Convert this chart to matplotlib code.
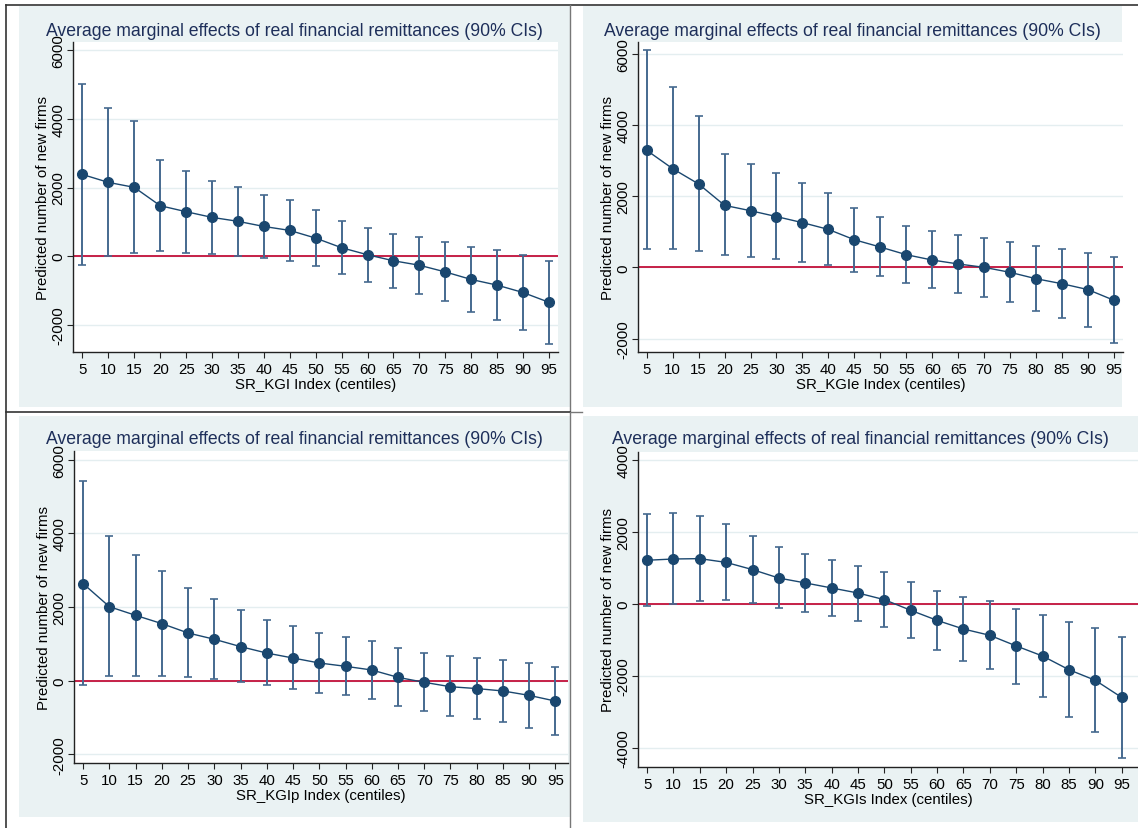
import matplotlib
matplotlib.use("Agg")
import matplotlib.pyplot as plt
import numpy as np
from matplotlib.patches import Rectangle
from matplotlib.lines import Line2D

plt.rcParams['font.family'] = ['Liberation Sans', 'DejaVu Sans']

centiles = [5, 10, 15, 20, 25, 30, 35, 40, 45, 50, 55, 60, 65, 70, 75, 80, 85, 90, 95]

# SR_KGI
kgi_est = [2380, 2150, 2005, 1470, 1295, 1130, 1015, 865, 750, 525, 245, 40, -135, -265, -460, -680, -845, -1060, -1345]
kgi_hi = [5025, 4315, 3935, 2805, 2485, 2200, 2015, 1790, 1625, 1345, 1030, 830, 655, 555, 420, 275, 165, 40, -135]
kgi_lo = [-255, 0, 80, 145, 105, 60, 10, -60, -135, -280, -535, -740, -935, -1090, -1315, -1615, -1850, -2145, -2560]

# SR_KGIe
kgie_est = [3285, 2770, 2340, 1740, 1590, 1425, 1255, 1065, 775, 570, 355, 205, 95, 0, -140, -320, -460, -625, -925]
kgie_hi = [6095, 5055, 4240, 3175, 2900, 2640, 2370, 2085, 1655, 1405, 1150, 1010, 900, 815, 710, 590, 515, 410, 290]
kgie_lo = [505, 505, 460, 335, 280, 225, 150, 65, -120, -255, -440, -580, -710, -825, -985, -1215, -1415, -1675, -2135]

# SR_KGIp
kgip_est = [2635, 2010, 1775, 1550, 1295, 1125, 925, 750, 615, 480, 390, 290, 90, -45, -165, -215, -280, -400, -555]
kgip_hi = [5420, 3930, 3425, 2980, 2510, 2210, 1910, 1660, 1475, 1305, 1180, 1080, 880, 750, 660, 615, 570, 470, 380]
kgip_lo = [-120, 120, 135, 135, 90, 35, -45, -125, -225, -325, -400, -490, -690, -835, -970, -1040, -1115, -1285, -1485]

# SR_KGIs
kgis_est = [1215, 1250, 1260, 1155, 955, 720, 585, 445, 305, 120, -175, -455, -695, -870, -1165, -1445, -1825, -2120, -2595]
kgis_hi = [2500, 2520, 2445, 2215, 1890, 1575, 1390, 1230, 1065, 880, 600, 360, 195, 75, -130, -295, -510, -665, -915]
kgis_lo = [-65, 10, 85, 100, 30, -120, -220, -335, -465, -640, -955, -1285, -1575, -1805, -2215, -2585, -3130, -3565, -4280]

W, H = 1138, 829
fig = plt.figure(figsize=(W / 100, H / 100), dpi=100)
fig.patch.set_facecolor('white')

bg = '#eaf2f3'
navy = '#1a476f'
ci_col = '#45698f'
title_col = '#1e2f5a'


def px_rect(x0, y0, x1, y1):
    return [x0 / W, 1 - y1 / H, (x1 - x0) / W, (y1 - y0) / H]


def add_bg(x0, y0, x1, y1):
    fig.patches.append(Rectangle((x0 / W, 1 - y1 / H), (x1 - x0) / W, (y1 - y0) / H,
                                 transform=fig.transFigure, facecolor=bg,
                                 edgecolor='none', zorder=-5))


def add_line(xs, ys, color='#333333', lw=1.2):
    fig.lines.append(Line2D([x / W for x in xs], [1 - y / H for y in ys],
                            transform=fig.transFigure, color=color, lw=lw, zorder=5))


# panel backgrounds
add_bg(19, 7, 570, 408)
add_bg(583, 7, 1122, 408)
add_bg(19, 417, 570, 818)
add_bg(583, 417, 1138, 823)

# table frame lines
add_line([6, 1138], [6, 6])
add_line([6, 6], [6, 829])
add_line([570, 570], [6, 829], color='#777777', lw=1.0)
add_line([6, 570], [413, 413])
add_line([570, 582], [413, 413], color='#777777', lw=1.0)

panels = [
    (kgi_est, kgi_lo, kgi_hi, 'SR_KGI Index (centiles)', (73, 43, 558, 353),
     (3.17, 96.76), (-2795, 6243), [-2000, 0, 2000, 4000, 6000], (19, 570), 31),
    (kgie_est, kgie_lo, kgie_hi, 'SR_KGIe Index (centiles)', (638, 43, 1123, 353),
     (3.32, 96.75), (-2377, 6327), [-2000, 0, 2000, 4000, 6000], (583, 1122), 31),
    (kgip_est, kgip_lo, kgip_hi, 'SR_KGIp Index (centiles)', (74, 452, 568, 764),
     (3.25, 97.4), (-2238, 6242), [-2000, 0, 2000, 4000, 6000], (19, 570), 440),
    (kgis_est, kgis_lo, kgis_hi, 'SR_KGIs Index (centiles)', (638, 453, 1138, 768),
     (3.28, 98.1), (-4528, 4222), [-4000, -2000, 0, 2000, 4000], (583, 1138), 440),
]

for est, lo, hi, xlab, box, xl, yl, yt, tspan, ty in panels:
    ax = fig.add_axes(px_rect(*box))
    ax.set_zorder(2)
    ax.set_facecolor('white')
    ax.set_xlim(*xl)
    ax.set_ylim(*yl)
    for s in ['top', 'right']:
        ax.spines[s].set_visible(False)
    for s in ['left', 'bottom']:
        ax.spines[s].set_color('#222222')
        ax.spines[s].set_linewidth(1.0)
    ax.set_yticks(yt)
    ax.set_yticklabels([str(v) for v in yt], rotation=90, va='center')
    ax.set_xticks(centiles)
    ax.tick_params(axis='both', direction='out', length=4, width=0.8,
                   colors='#222222', labelsize=10.8, labelcolor='black')
    ax.tick_params(axis='x', pad=3)
    ax.tick_params(axis='y', pad=1.5)
    ax.grid(axis='y', color='#e4eef0', lw=1.0)
    ax.set_axisbelow(True)

    ax.axhline(0, color='#c2103a', lw=1.3, zorder=2)
    est_a = np.array(est)
    yerr = [est_a - np.array(lo), np.array(hi) - est_a]
    ax.errorbar(centiles, est, yerr=yerr, fmt='none', ecolor=ci_col,
                elinewidth=1.4, capsize=2.6, capthick=1.2, zorder=3)
    ax.plot(centiles, est, color=navy, lw=1.0, marker='o', ms=7,
            mfc=navy, mec=navy, zorder=4)

    ax.set_xlabel(xlab, fontsize=10.8, labelpad=1)
    ax.set_ylabel('Predicted number of new firms', fontsize=10.8, labelpad=1)

    fig.text((tspan[0] + tspan[1]) / 2 / W, 1 - ty / H,
             'Average marginal effects of real financial remittances (90% CIs)',
             ha='center', va='center', fontsize=12.7, color=title_col, zorder=3)

fig.savefig('out.png', dpi=100, facecolor='white')
